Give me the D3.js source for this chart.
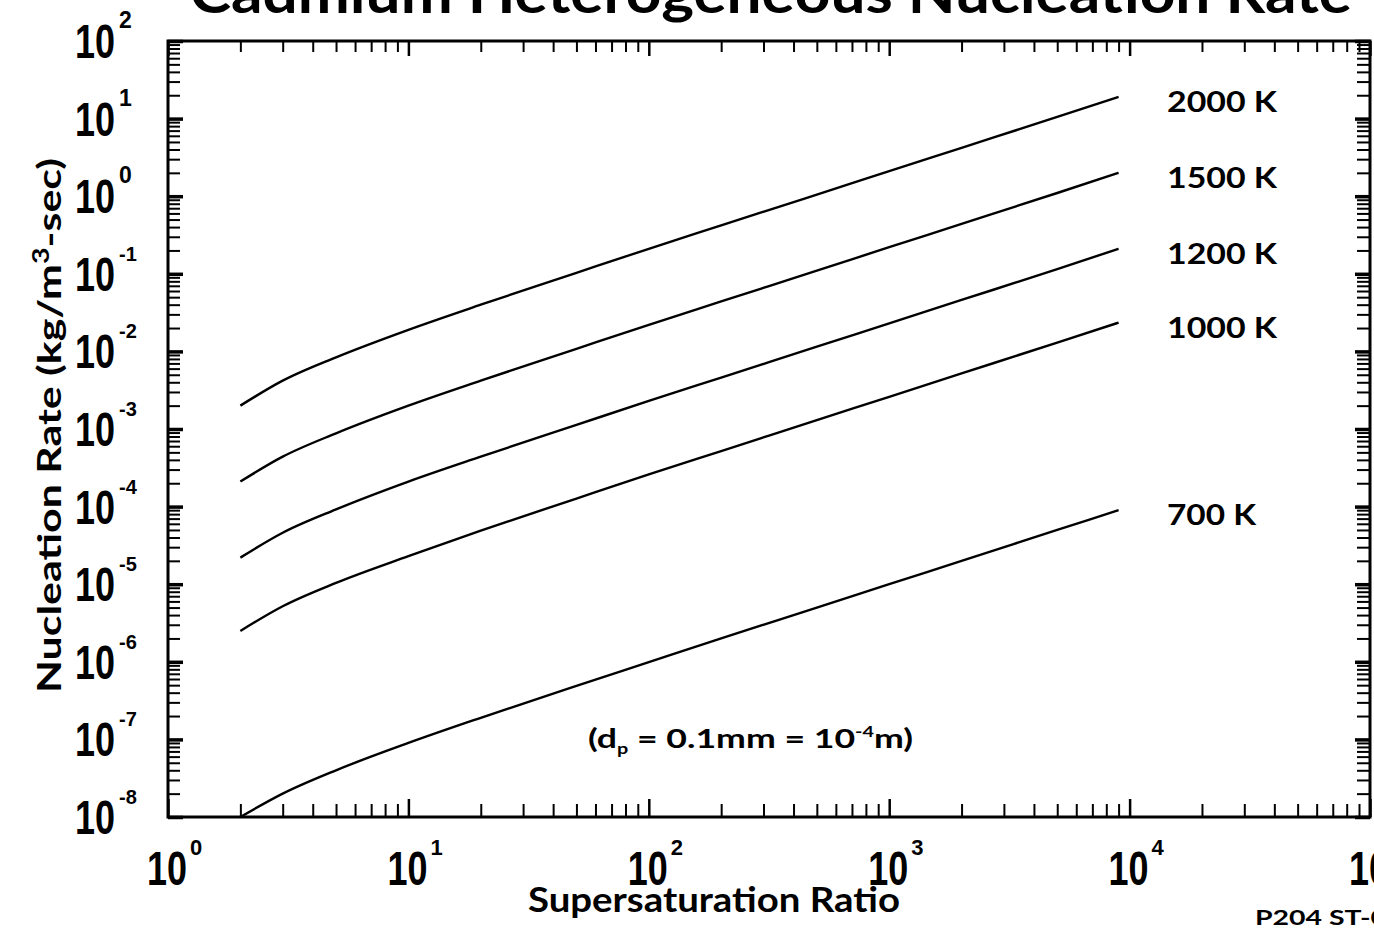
<!DOCTYPE html>
<html>
<head>
<meta charset="utf-8">
<script src="https://cdn.jsdelivr.net/npm/d3@7"></script>
<style>
  html, body { margin: 0; padding: 0; background: #fff; }
  svg { display: block; }
  .lbl { font-family: Lato, "Liberation Sans", sans-serif; font-weight: 700; fill: #000; }
  .num { font-family: "Liberation Sans", Arial, sans-serif; fill: #000; }
</style>
</head>
<body>
<script>
// Supersaturation ratio sampled along each curve
const ratios = [2, 3, 5, 10, 20, 50, 100, 200, 500, 1000, 2000, 5000, 9000];

// Nucleation rate (kg/m^3-sec) for each temperature
const rate2000K = [2.0e-3, 4.2e-3, 8.4e-3, 1.9e-2, 4.0e-2, 1.03e-1, 2.1e-1, 4.2e-1, 1.05, 2.1, 4.2, 10.5, 19];
const rate1500K = [2.1e-4, 4.4e-4, 8.8e-4, 2.0e-3, 4.2e-3, 1.08e-2, 2.2e-2, 4.4e-2, 1.1e-1, 2.2e-1, 4.4e-1, 1.1, 2.0];
const rate1200K = [2.2e-5, 4.6e-5, 9.2e-5, 2.1e-4, 4.4e-4, 1.13e-3, 2.3e-3, 4.6e-3, 1.15e-2, 2.3e-2, 4.6e-2, 1.15e-1, 2.1e-1];
const rate1000K = [2.5e-6, 5.2e-6, 1.04e-5, 2.3e-5, 4.9e-5, 1.27e-4, 2.6e-4, 5.2e-4, 1.3e-3, 2.6e-3, 5.2e-3, 1.3e-2, 2.35e-2];
const rate700K  = [1.0e-8, 2.0e-8, 4.0e-8, 9.0e-8, 1.9e-7, 4.9e-7, 9.9e-7, 2.0e-6, 5.0e-6, 1.0e-5, 2.0e-5, 5.0e-5, 9.0e-5];

const seriesRates = [rate2000K, rate1500K, rate1200K, rate1000K, rate700K];
const seriesNames = ["2000 K", "1500 K", "1200 K", "1000 K", "700 K"];

// Axis decade exponents
const xExponents = [0, 1, 2, 3, 4, 5];
const yExponents = [2, 1, 0, -1, -2, -3, -4, -5, -6, -7, -8];

const W = 1374, H = 932;
const L = 168, R = 1370, T = 41, B = 817;

const x = d3.scaleLog().domain([1, 1e5]).range([L, R]);
const y = d3.scaleLog().domain([1e-8, 1e2]).range([B, T]);

const svg = d3.select("body").append("svg")
  .attr("width", W).attr("height", H)
  .style("background", "#fff");

svg.append("defs").append("clipPath").attr("id", "plot-clip")
  .append("rect").attr("x", L).attr("y", T).attr("width", R - L).attr("height", B - T);

// Tick sets: all 1..9 multiples, split into decades and minors
const xAll = x.ticks(50);
const yAll = y.ticks(50);
const isDecade = v => Math.abs(Math.log10(v) - Math.round(Math.log10(v))) < 1e-9;
const xMinor = xAll.filter(v => !isDecade(v));
const xMajor = xAll.filter(isDecade);
const yMinor = yAll.filter(v => !isDecade(v));
const yMajor = yAll.filter(isDecade);

function axisGroup(axis, tx, ty, width) {
  const g = svg.append("g").attr("transform", `translate(${tx},${ty})`).call(axis);
  g.select(".domain").remove();
  g.selectAll(".tick line").attr("stroke", "#000").attr("stroke-width", width);
  g.selectAll(".tick text").remove();
  return g;
}

// Inward-pointing ticks on all four sides
axisGroup(d3.axisBottom(x).tickValues(xMinor).tickSizeInner(-13).tickSizeOuter(0).tickFormat(""), 0, B, 2);
axisGroup(d3.axisBottom(x).tickValues(xMajor).tickSizeInner(-18).tickSizeOuter(0).tickFormat(""), 0, B, 2.5);
axisGroup(d3.axisTop(x).tickValues(xMinor).tickSizeInner(-11).tickSizeOuter(0).tickFormat(""), 0, T, 2);
axisGroup(d3.axisTop(x).tickValues(xMajor).tickSizeInner(-15).tickSizeOuter(0).tickFormat(""), 0, T, 2.5);
axisGroup(d3.axisLeft(y).tickValues(yMinor).tickSizeInner(-12).tickSizeOuter(0).tickFormat(""), L, 0, 2);
axisGroup(d3.axisLeft(y).tickValues(yMajor).tickSizeInner(-15).tickSizeOuter(0).tickFormat(""), L, 0, 3.5);
axisGroup(d3.axisRight(y).tickValues(yMinor).tickSizeInner(-13).tickSizeOuter(0).tickFormat(""), R, 0, 2);
axisGroup(d3.axisRight(y).tickValues(yMajor).tickSizeInner(-15).tickSizeOuter(0).tickFormat(""), R, 0, 3.5);

// Plot frame
svg.append("rect")
  .attr("x", L).attr("y", T).attr("width", R - L).attr("height", B - T)
  .attr("fill", "none").attr("stroke", "#000").attr("stroke-width", 3);

// Curves
const line = d3.line()
  .x(d => x(d[0]))
  .y(d => y(d[1]))
  .curve(d3.curveMonotoneX);

const curves = svg.append("g").attr("clip-path", "url(#plot-clip)");
seriesRates.forEach(rates => {
  curves.append("path")
    .datum(ratios.map((s, i) => [s, rates[i]]))
    .attr("d", line)
    .attr("fill", "none")
    .attr("stroke", "#000")
    .attr("stroke-width", 2.4)
    .attr("stroke-linejoin", "round");
});

// Temperature labels beside each curve end
seriesRates.forEach((rates, i) => {
  svg.append("text").attr("class", "lbl")
    .attr("x", 1167)
    .attr("y", y(rates[rates.length - 1]) + 15)
    .attr("font-size", 29)
    .attr("textLength", seriesNames[i].length === 6 ? 110 : 89)
    .attr("lengthAdjust", "spacingAndGlyphs")
    .text(seriesNames[i]);
});

// X decade labels
xExponents.forEach(e => {
  const px = x(Math.pow(10, e));
  svg.append("text").attr("class", "num")
    .attr("x", px - 21).attr("y", 885)
    .attr("font-size", 48).attr("font-weight", 700)
    .attr("textLength", 40).attr("lengthAdjust", "spacingAndGlyphs")
    .text("10");
  svg.append("text").attr("class", "num")
    .attr("x", px + 22).attr("y", 855)
    .attr("font-size", 22).attr("font-weight", 700)
    .text(String(e));
});

// Y decade labels
yExponents.forEach(e => {
  const py = y(Math.pow(10, e));
  svg.append("text").attr("class", "num")
    .attr("x", 75).attr("y", py + 17)
    .attr("font-size", 48).attr("font-weight", 700)
    .attr("textLength", 40).attr("lengthAdjust", "spacingAndGlyphs")
    .text("10");
  svg.append("text").attr("class", "num")
    .attr("x", 119).attr("y", py - 13)
    .attr("font-size", e < 0 ? 20 : 23).attr("font-weight", 700)
    .text(e < 0 ? "-" + Math.abs(e) : String(e));
});

// Title (runs off the top edge)
svg.append("text").attr("class", "lbl")
  .attr("x", 190).attr("y", 13)
  .attr("font-size", 56).attr("font-weight", 900)
  .attr("textLength", 1162).attr("lengthAdjust", "spacingAndGlyphs")
  .text("Cadmium Heterogeneous Nucleation Rate");

// Axis titles
svg.append("text").attr("class", "lbl")
  .attr("x", 528).attr("y", 912)
  .attr("font-size", 34)
  .attr("textLength", 372).attr("lengthAdjust", "spacingAndGlyphs")
  .text("Supersaturation Ratio");

const yTitle = svg.append("text").attr("class", "lbl")
  .attr("transform", "translate(61,693) rotate(-90)")
  .attr("font-size", 33)
  .attr("textLength", 535).attr("lengthAdjust", "spacingAndGlyphs");
yTitle.append("tspan").text("Nucleation Rate (kg/m");
yTitle.append("tspan").attr("dy", -12).attr("font-size", 22).text("3");
yTitle.append("tspan").attr("dy", 12).text("-sec)");

// Particle diameter note
const note = svg.append("text").attr("class", "lbl")
  .attr("x", 588).attr("y", 748)
  .attr("font-size", 27)
  .attr("textLength", 325).attr("lengthAdjust", "spacingAndGlyphs");
note.append("tspan").text("(d");
note.append("tspan").attr("dy", 6).attr("font-size", 15).text("p");
note.append("tspan").attr("dy", -6).text(" = 0.1mm = 10");
note.append("tspan").attr("dy", -11).attr("font-size", 15).text("-4");
note.append("tspan").attr("dy", 11).text("m)");

// Figure code at the bottom right
svg.append("text").attr("class", "lbl")
  .attr("x", 1255).attr("y", 925)
  .attr("font-size", 20).attr("font-weight", 900)
  .attr("textLength", 132).attr("lengthAdjust", "spacingAndGlyphs")
  .text("P204 ST-0");
</script>
</body>
</html>
